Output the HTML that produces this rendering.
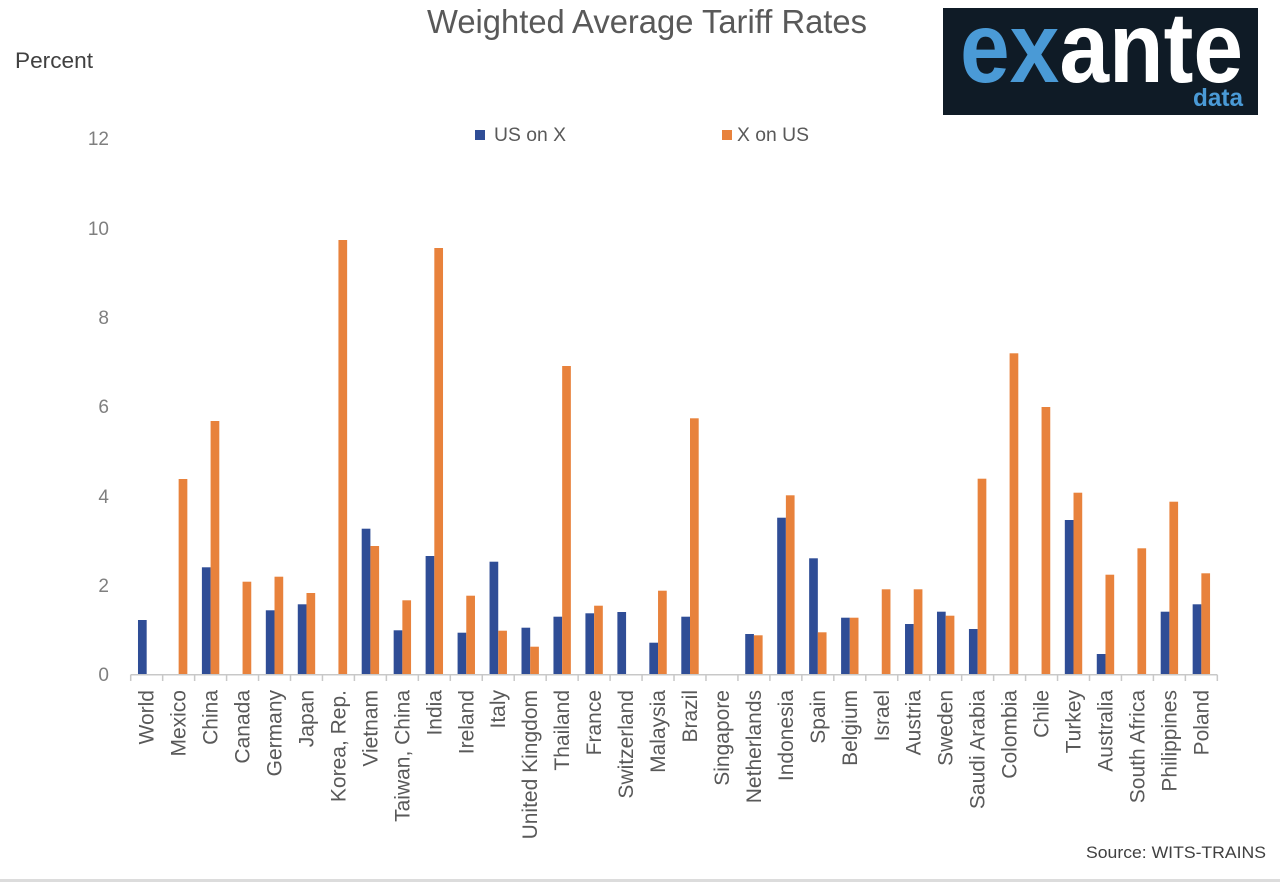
<!DOCTYPE html>
<html>
<head>
<meta charset="utf-8">
<style>
html,body{margin:0;padding:0;background:#fff;}
body{width:1280px;height:882px;overflow:hidden;}
svg{display:block;}
text{font-family:"Liberation Sans",Arial,sans-serif;}
</style>
</head>
<body>
<svg width="1280" height="882" viewBox="0 0 1280 882" xmlns="http://www.w3.org/2000/svg">
<rect x="0" y="0" width="1280" height="882" fill="#ffffff"/>

<!-- Title -->
<text x="427" y="33" font-size="33" fill="#595959" textLength="440" lengthAdjust="spacingAndGlyphs">Weighted Average Tariff Rates</text>

<!-- Percent -->
<text x="15" y="68" font-size="22" fill="#404040" textLength="78" lengthAdjust="spacingAndGlyphs">Percent</text>

<!-- Logo -->
<rect x="943" y="8" width="315" height="107" fill="#0f1b26"/>
<text x="960" y="82" font-size="100" font-weight="bold" textLength="283" lengthAdjust="spacingAndGlyphs"><tspan fill="#4a9ad6">ex</tspan><tspan fill="#ffffff">ante</tspan></text>
<text x="1193" y="106" font-size="25" font-weight="bold" fill="#4a9ad6" textLength="50" lengthAdjust="spacingAndGlyphs">data</text>

<!-- Legend -->
<rect x="475" y="130" width="10" height="10" fill="#2f4d96"/>
<text x="494" y="141" font-size="19" fill="#595959" textLength="72" lengthAdjust="spacingAndGlyphs">US on X</text>
<rect x="722" y="130" width="10" height="10" fill="#e8823c"/>
<text x="737" y="141" font-size="19" fill="#595959" textLength="72" lengthAdjust="spacingAndGlyphs">X on US</text>

<!-- Y axis labels -->
<g font-size="19" fill="#7f7f7f" text-anchor="end">
<text x="109" y="681">0</text>
<text x="109" y="592">2</text>
<text x="109" y="503">4</text>
<text x="109" y="413">6</text>
<text x="109" y="324">8</text>
<text x="109" y="235">10</text>
<text x="109" y="145">12</text>
</g>

<!-- Blue bars: US on X -->
<g fill="#2f4d96">
<rect x="137.98" y="620" width="8.7" height="54.5"/>
<rect x="201.9" y="567.3" width="8.7" height="107.2"/>
<rect x="265.82" y="610.3" width="8.7" height="64.2"/>
<rect x="297.78" y="604.3" width="8.7" height="70.2"/>
<rect x="361.7" y="528.7" width="8.7" height="145.8"/>
<rect x="393.66" y="630.3" width="8.7" height="44.2"/>
<rect x="425.62" y="556" width="8.7" height="118.5"/>
<rect x="457.58" y="632.7" width="8.7" height="41.8"/>
<rect x="489.54" y="561.7" width="8.7" height="112.8"/>
<rect x="521.5" y="627.7" width="8.7" height="46.8"/>
<rect x="553.46" y="616.7" width="8.7" height="57.8"/>
<rect x="585.42" y="613.3" width="8.7" height="61.2"/>
<rect x="617.38" y="612" width="8.7" height="62.5"/>
<rect x="649.34" y="642.7" width="8.7" height="31.8"/>
<rect x="681.3" y="616.7" width="8.7" height="57.8"/>
<rect x="745.22" y="634" width="8.7" height="40.5"/>
<rect x="777.18" y="517.7" width="8.7" height="156.8"/>
<rect x="809.14" y="558.3" width="8.7" height="116.2"/>
<rect x="841.1" y="617.7" width="8.7" height="56.8"/>
<rect x="905.02" y="624" width="8.7" height="50.5"/>
<rect x="936.98" y="611.7" width="8.7" height="62.8"/>
<rect x="968.94" y="629" width="8.7" height="45.5"/>
<rect x="1064.82" y="520" width="8.7" height="154.5"/>
<rect x="1096.78" y="654" width="8.7" height="20.5"/>
<rect x="1160.7" y="611.7" width="8.7" height="62.8"/>
<rect x="1192.66" y="604.3" width="8.7" height="70.2"/>
</g>

<!-- Orange bars: X on US -->
<g fill="#e8823c">
<rect x="178.64" y="479" width="8.7" height="195.5"/>
<rect x="210.6" y="421" width="8.7" height="253.5"/>
<rect x="242.56" y="581.7" width="8.7" height="92.8"/>
<rect x="274.52" y="576.7" width="8.7" height="97.8"/>
<rect x="306.48" y="593" width="8.7" height="81.5"/>
<rect x="338.44" y="240" width="8.7" height="434.5"/>
<rect x="370.4" y="546" width="8.7" height="128.5"/>
<rect x="402.36" y="600.3" width="8.7" height="74.2"/>
<rect x="434.32" y="248" width="8.7" height="426.5"/>
<rect x="466.28" y="595.7" width="8.7" height="78.8"/>
<rect x="498.24" y="630.7" width="8.7" height="43.8"/>
<rect x="530.2" y="646.7" width="8.7" height="27.8"/>
<rect x="562.16" y="366" width="8.7" height="308.5"/>
<rect x="594.12" y="605.7" width="8.7" height="68.8"/>
<rect x="658.04" y="590.7" width="8.7" height="83.8"/>
<rect x="690" y="418.3" width="8.7" height="256.2"/>
<rect x="753.92" y="635.3" width="8.7" height="39.2"/>
<rect x="785.88" y="495.3" width="8.7" height="179.2"/>
<rect x="817.84" y="632.3" width="8.7" height="42.2"/>
<rect x="849.8" y="617.7" width="8.7" height="56.8"/>
<rect x="881.76" y="589.3" width="8.7" height="85.2"/>
<rect x="913.72" y="589.3" width="8.7" height="85.2"/>
<rect x="945.68" y="615.7" width="8.7" height="58.8"/>
<rect x="977.64" y="478.7" width="8.7" height="195.8"/>
<rect x="1009.6" y="353.3" width="8.7" height="321.2"/>
<rect x="1041.56" y="407" width="8.7" height="267.5"/>
<rect x="1073.52" y="492.7" width="8.7" height="181.8"/>
<rect x="1105.48" y="574.7" width="8.7" height="99.8"/>
<rect x="1137.44" y="548.3" width="8.7" height="126.2"/>
<rect x="1169.4" y="501.7" width="8.7" height="172.8"/>
<rect x="1201.36" y="573.3" width="8.7" height="101.2"/>
</g>

<!-- X axis line and ticks -->
<g stroke="#c8c8c8" stroke-width="1.5" fill="none">
<line x1="130.7" y1="674.8" x2="1217.3" y2="674.8"/>
<path d="M130.7 674.8V681 M162.66 674.8V681 M194.62 674.8V681 M226.58 674.8V681 M258.54 674.8V681 M290.5 674.8V681 M322.46 674.8V681 M354.42 674.8V681 M386.38 674.8V681 M418.34 674.8V681 M450.3 674.8V681 M482.26 674.8V681 M514.22 674.8V681 M546.18 674.8V681 M578.14 674.8V681 M610.1 674.8V681 M642.06 674.8V681 M674.02 674.8V681 M705.98 674.8V681 M737.94 674.8V681 M769.9 674.8V681 M801.86 674.8V681 M833.82 674.8V681 M865.78 674.8V681 M897.74 674.8V681 M929.7 674.8V681 M961.66 674.8V681 M993.62 674.8V681 M1025.58 674.8V681 M1057.54 674.8V681 M1089.5 674.8V681 M1121.46 674.8V681 M1153.42 674.8V681 M1185.38 674.8V681 M1217.34 674.8V681"/>
</g>

<!-- X axis labels -->
<g font-size="21" fill="#595959" text-anchor="end">
<text transform="translate(153.68,690) rotate(-90)">World</text>
<text transform="translate(185.64,690) rotate(-90)">Mexico</text>
<text transform="translate(217.6,690) rotate(-90)">China</text>
<text transform="translate(249.56,690) rotate(-90)">Canada</text>
<text transform="translate(281.52,690) rotate(-90)">Germany</text>
<text transform="translate(313.48,690) rotate(-90)">Japan</text>
<text transform="translate(345.44,690) rotate(-90)">Korea, Rep.</text>
<text transform="translate(377.4,690) rotate(-90)">Vietnam</text>
<text transform="translate(409.36,690) rotate(-90)">Taiwan, China</text>
<text transform="translate(441.32,690) rotate(-90)">India</text>
<text transform="translate(473.28,690) rotate(-90)">Ireland</text>
<text transform="translate(505.24,690) rotate(-90)">Italy</text>
<text transform="translate(537.2,690) rotate(-90)">United Kingdom</text>
<text transform="translate(569.16,690) rotate(-90)">Thailand</text>
<text transform="translate(601.12,690) rotate(-90)">France</text>
<text transform="translate(633.08,690) rotate(-90)">Switzerland</text>
<text transform="translate(665.04,690) rotate(-90)">Malaysia</text>
<text transform="translate(697,690) rotate(-90)">Brazil</text>
<text transform="translate(728.96,690) rotate(-90)">Singapore</text>
<text transform="translate(760.92,690) rotate(-90)">Netherlands</text>
<text transform="translate(792.88,690) rotate(-90)">Indonesia</text>
<text transform="translate(824.84,690) rotate(-90)">Spain</text>
<text transform="translate(856.8,690) rotate(-90)">Belgium</text>
<text transform="translate(888.76,690) rotate(-90)">Israel</text>
<text transform="translate(920.72,690) rotate(-90)">Austria</text>
<text transform="translate(952.68,690) rotate(-90)">Sweden</text>
<text transform="translate(984.64,690) rotate(-90)">Saudi Arabia</text>
<text transform="translate(1016.6,690) rotate(-90)">Colombia</text>
<text transform="translate(1048.56,690) rotate(-90)">Chile</text>
<text transform="translate(1080.52,690) rotate(-90)">Turkey</text>
<text transform="translate(1112.48,690) rotate(-90)">Australia</text>
<text transform="translate(1144.44,690) rotate(-90)">South Africa</text>
<text transform="translate(1176.4,690) rotate(-90)">Philippines</text>
<text transform="translate(1208.36,690) rotate(-90)">Poland</text>
</g>

<!-- Source -->
<text x="1086" y="858" font-size="17" fill="#404040" textLength="180" lengthAdjust="spacingAndGlyphs">Source: WITS-TRAINS</text>

<!-- bottom strip -->
<rect x="0" y="879" width="1280" height="3" fill="#dcdcdc"/>
</svg>
</body>
</html>
